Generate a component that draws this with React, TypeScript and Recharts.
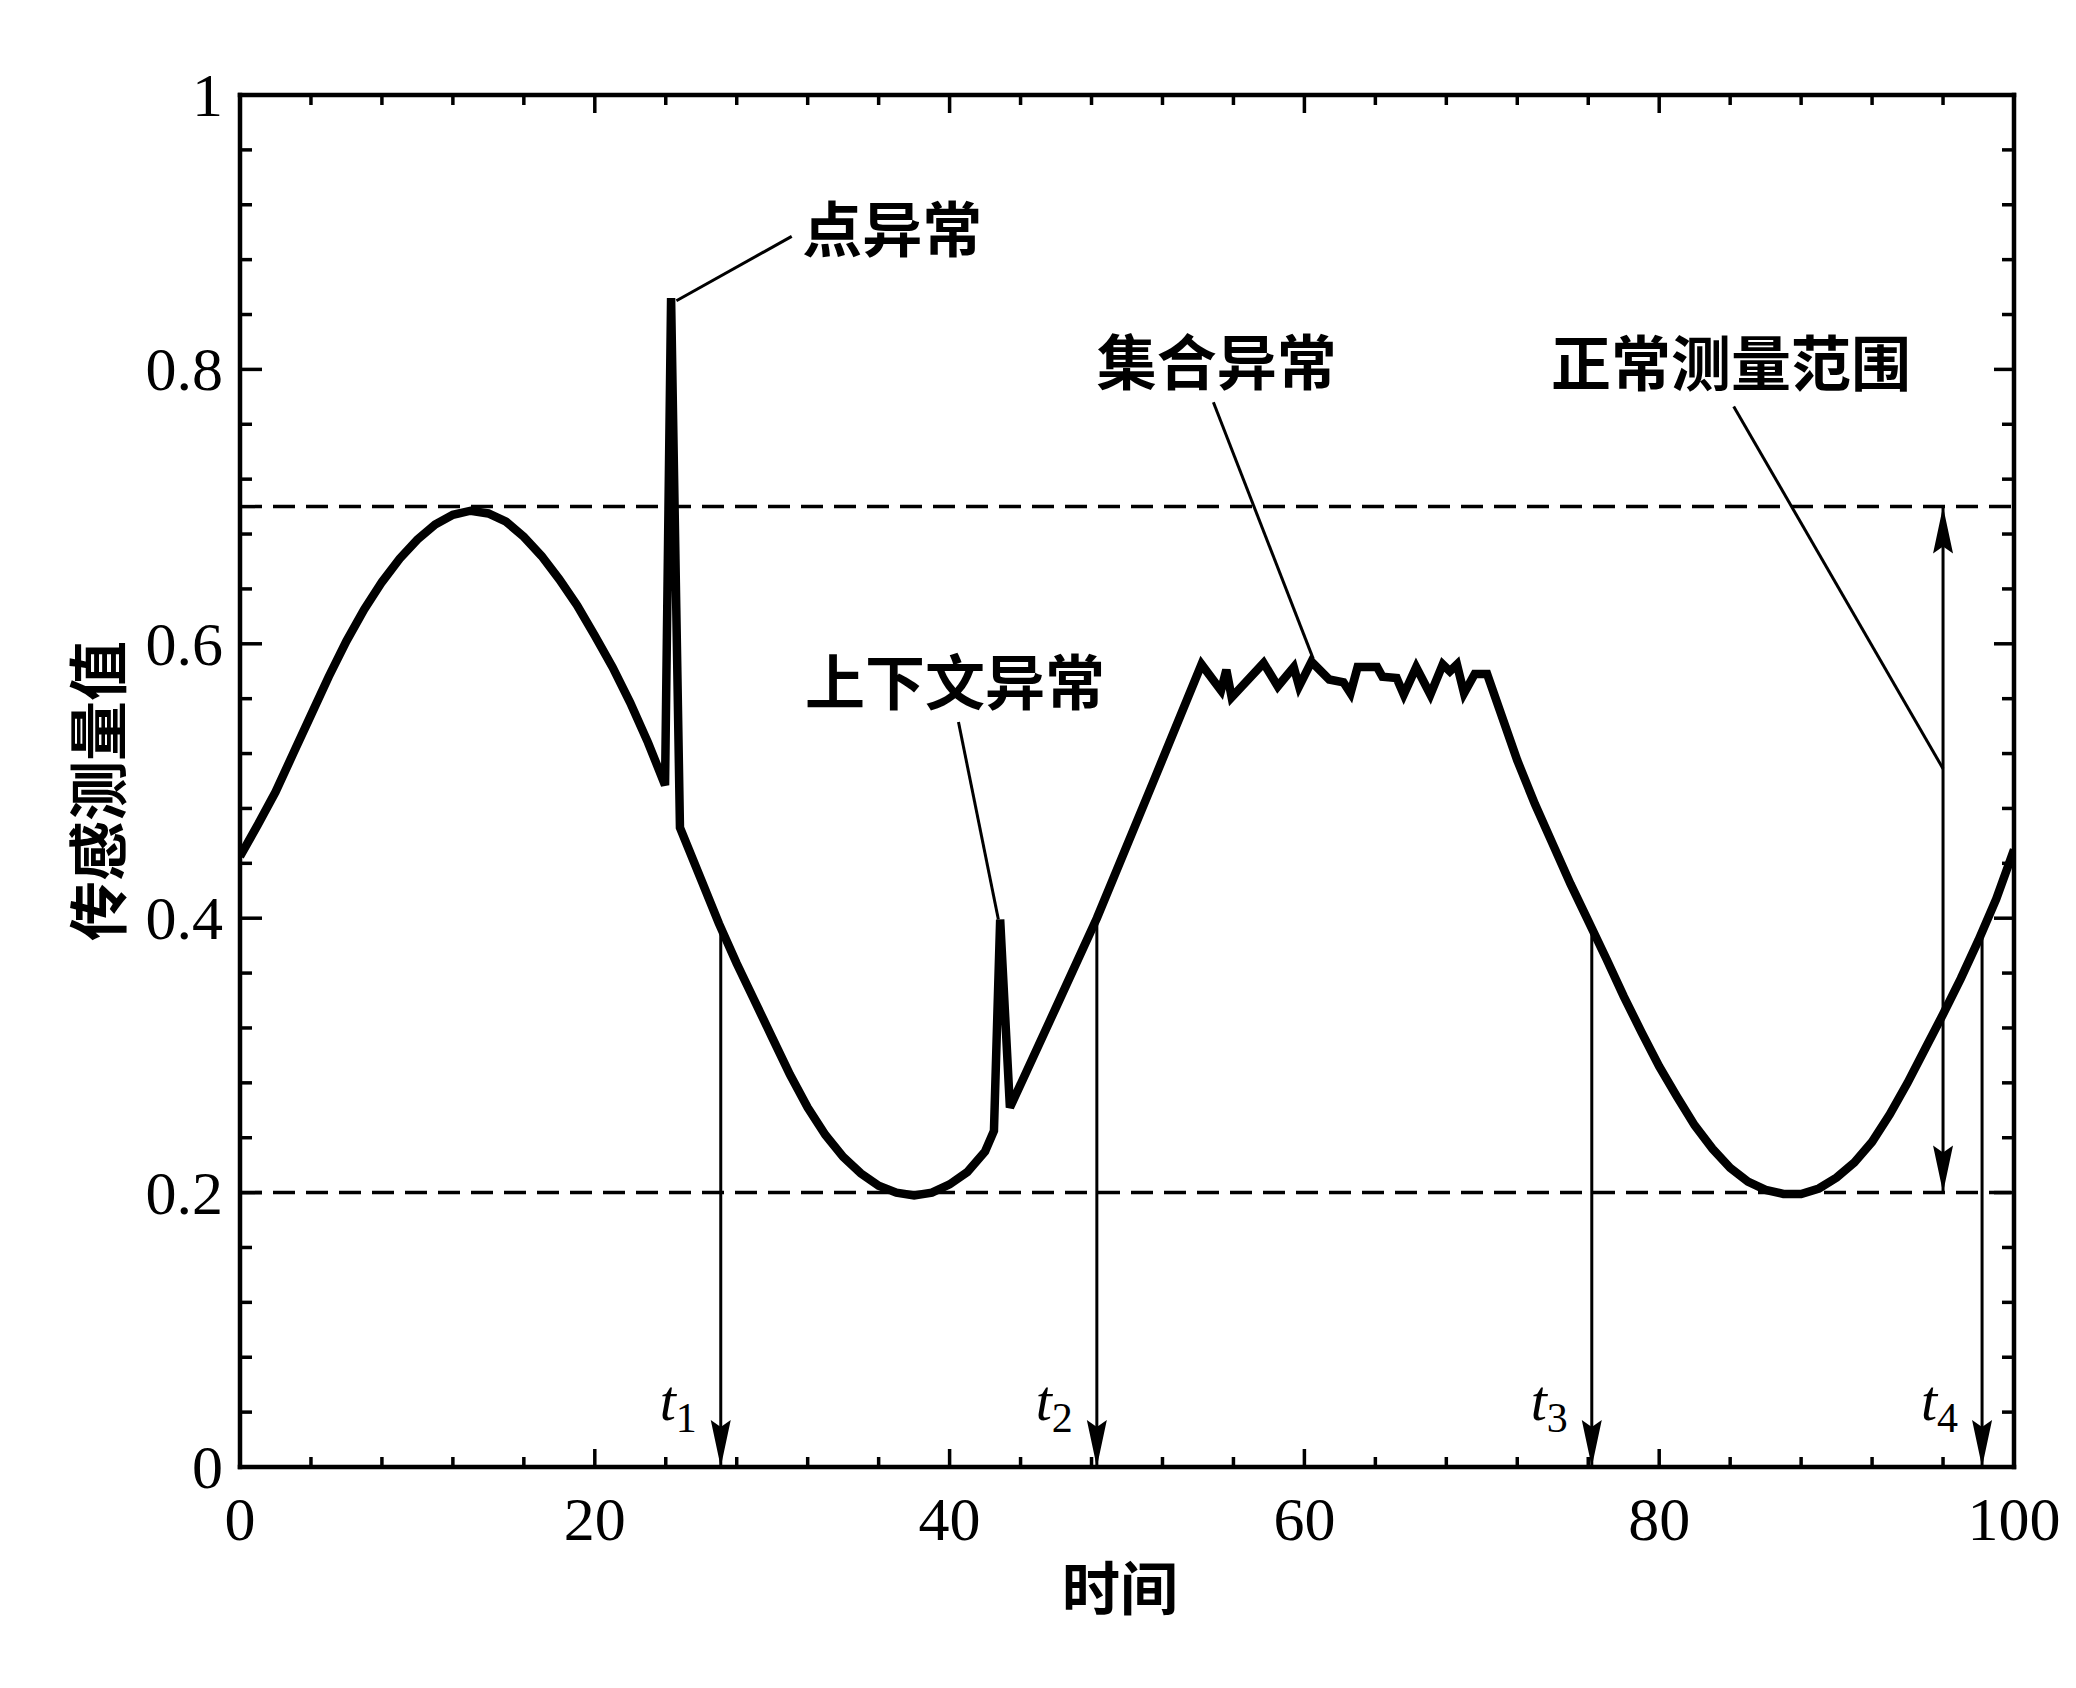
import { LineChart, Line, XAxis, YAxis, ReferenceLine, ReferenceDot } from 'recharts';

// ---------------------------------------------------------------------------
// Data
// ---------------------------------------------------------------------------

const TIME = [
  // first hump
  0, 1, 2, 3, 4, 5, 6, 7, 8, 9, 10, 11, 12, 13, 14, 15, 16, 17, 18, 19, 20, 21, 22, 23, 23.96,
  // point anomaly
  24.3, 24.8,
  // descent to first trough
  26, 27, 28, 29, 30, 31, 32, 33, 34, 35, 36, 37, 38, 39, 40, 41, 42, 42.5,
  // contextual anomaly
  42.85, 43.4,
  // rise
  46, 48.3, 51.5,
  // collective anomaly (jagged plateau)
  54.2, 55.3, 55.6, 55.9, 57.7, 58.5, 59.4, 59.7, 60.4, 61.4, 62.2, 62.6, 63.0, 64.1, 64.4,
  65.2, 65.6, 66.3, 67.1, 67.8, 68.2, 68.6, 69.0, 69.6, 70.3,
  // descent, second trough, rise
  71, 72, 73, 74, 75, 76, 77, 78, 79, 80, 81, 82, 83, 84, 85, 86, 87, 88, 89, 90,
  91, 92, 93, 94, 95, 96, 97, 98, 99, 100,
];

const VALUE = [
  0.445, 0.468, 0.492, 0.52, 0.548, 0.576, 0.602, 0.625, 0.645, 0.662, 0.676, 0.687, 0.694,
  0.697, 0.695, 0.689, 0.678, 0.664, 0.647, 0.628, 0.606, 0.583, 0.557, 0.528, 0.497,
  0.852, 0.466,
  0.428, 0.396, 0.367, 0.34, 0.313, 0.286, 0.262, 0.242, 0.226, 0.214, 0.205, 0.2, 0.198,
  0.2, 0.206, 0.215, 0.23, 0.245,
  0.399, 0.262,
  0.335, 0.4, 0.5,
  0.585, 0.566, 0.581, 0.561, 0.586, 0.569, 0.583, 0.569, 0.587, 0.574, 0.572, 0.564, 0.583,
  0.583, 0.576, 0.575, 0.563, 0.583, 0.563, 0.585, 0.58, 0.585, 0.564, 0.578, 0.578,
  0.552, 0.515, 0.483, 0.454, 0.425, 0.398, 0.371, 0.343, 0.317, 0.292, 0.27, 0.249, 0.232,
  0.218, 0.208, 0.202, 0.199, 0.199, 0.203, 0.211, 0.222, 0.237, 0.257, 0.28, 0.305, 0.33,
  0.356, 0.384, 0.414, 0.45,
];

const X_TICKS = [0, 4, 8, 12, 16, 20, 24, 28, 32, 36, 40, 44, 48, 52, 56, 60, 64, 68, 72, 76, 80, 84, 88, 92, 96, 100];
const Y_TICKS = [
  0, 0.04, 0.08, 0.12, 0.16, 0.2, 0.24, 0.28, 0.32, 0.36, 0.4, 0.44, 0.48, 0.52, 0.56, 0.6,
  0.64, 0.68, 0.72, 0.76, 0.8, 0.84, 0.88, 0.92, 0.96, 1,
];

// normal measurement band
const NORMAL_LOW = 0.2;
const NORMAL_HIGH = 0.7;
const RANGE_T = 96;

// t1..t4 markers
const MARK_T = [27.1, 48.3, 76.2, 98.2];
const MARK_FROM = [0.395, 0.4, 0.394, 0.39];
const MARK_SUB = ['1', '2', '3', '4'];

// annotations
const NOTE_TEXT = ['点异常', '上下文异常', '集合异常', '正常测量范围'];
const NOTE_T = [31.7, 31.85, 48.3, 73.9];
const NOTE_V = [0.905, 0.575, 0.808, 0.807];
const LEADER_START = [
  { x: 24.6, y: 0.85 },
  { x: 40.5, y: 0.543 },
  { x: 54.87, y: 0.776 },
  { x: 84.2, y: 0.773 },
];
const LEADER_END = [
  { x: 31.1, y: 0.897 },
  { x: 42.75, y: 0.399 },
  { x: 60.5, y: 0.589 },
  { x: RANGE_T, y: 0.509 },
];

const DATA = TIME.map((t, i) => ({ t, v: VALUE[i] }));

// ---------------------------------------------------------------------------
// Styling helpers
// ---------------------------------------------------------------------------

const SERIF = '"Liberation Serif", "Times New Roman", serif';
const CJK = '"Noto Sans CJK SC", "Noto Sans", sans-serif';
const INK = '#000';

const isMajor = (v: number, step: number) => Math.abs(v / step - Math.round(v / step)) < 1e-6;
const fmtY = (v: number) => (Math.abs(v - Math.round(v)) < 1e-6 ? String(Math.round(v)) : v.toFixed(1));

function BottomTick({ x, y, payload }: any) {
  const major = isMajor(payload.value, 20);
  return (
    <g>
      <line x1={x} y1={y} x2={x} y2={y - (major ? 18 : 10)} stroke={INK} strokeWidth={3.5} />
      {major && (
        <text x={x} y={y + 73} textAnchor="middle" fontFamily={SERIF} fontSize={62} fill={INK}>
          {payload.value}
        </text>
      )}
    </g>
  );
}

function TopTick({ x, y, payload }: any) {
  const major = isMajor(payload.value, 20);
  return <line x1={x} y1={y} x2={x} y2={y + (major ? 18 : 10)} stroke={INK} strokeWidth={3.5} />;
}

function LeftTick({ x, y, payload }: any) {
  const major = isMajor(payload.value, 0.2);
  return (
    <g>
      <line x1={x} y1={y} x2={x + (major ? 22 : 12)} y2={y} stroke={INK} strokeWidth={3.5} />
      {major && (
        <text x={x - 17} y={y + 21} textAnchor="end" fontFamily={SERIF} fontSize={62} fill={INK}>
          {fmtY(payload.value)}
        </text>
      )}
    </g>
  );
}

function RightTick({ x, y, payload }: any) {
  const major = isMajor(payload.value, 0.2);
  return <line x1={x} y1={y} x2={x - (major ? 20 : 12)} y2={y} stroke={INK} strokeWidth={3.5} />;
}

function XLabel({ viewBox }: any) {
  const cx = viewBox.x + viewBox.width / 2 - 7;
  const cy = viewBox.y + 118;
  return (
    <text x={cx} y={cy} textAnchor="middle" dominantBaseline="central" fontFamily={CJK} fontWeight={700} fontSize={58} fill={INK}>
      时间
    </text>
  );
}

function YLabel({ viewBox }: any) {
  const cx = viewBox.x + viewBox.width - 146;
  const cy = viewBox.y + viewBox.height / 2 + 10;
  return (
    <text
      x={cx}
      y={cy}
      transform={`rotate(-90 ${cx} ${cy})`}
      textAnchor="middle"
      dominantBaseline="central"
      fontFamily={CJK}
      fontWeight={700}
      fontSize={60}
      fill={INK}
    >
      传感测量值
    </text>
  );
}

const arrowDown = ({ cx, cy }: any) => (
  <path d={`M${cx},${cy} L${cx - 10},${cy - 47} L${cx},${cy - 40} L${cx + 10},${cy - 47} Z`} fill={INK} />
);
const arrowUp = ({ cx, cy }: any) => (
  <path d={`M${cx},${cy} L${cx - 10},${cy + 47} L${cx},${cy + 40} L${cx + 10},${cy + 47} Z`} fill={INK} />
);

const markLabel = (sub: string) => ({ cx, cy }: any) => (
  <text x={cx - 24} y={cy - 47} textAnchor="end" fontFamily={SERIF} fill={INK}>
    <tspan fontStyle="italic" fontSize={58}>t</tspan>
    <tspan fontSize={42} dy={12}>{sub}</tspan>
  </text>
);

const noteLabel = (text: string) => ({ cx, cy }: any) => (
  <text x={cx} y={cy} textAnchor="start" dominantBaseline="central" fontFamily={CJK} fontWeight={700} fontSize={60} fill={INK}>
    {text}
  </text>
);

const axisLine = { stroke: INK, strokeWidth: 4.5, strokeLinecap: 'square' as const };
const ids = { xAxisId: 'b', yAxisId: 'l' };

// ---------------------------------------------------------------------------
// Component
// ---------------------------------------------------------------------------

export default function App() {
  return (
    <div style={{ position: 'absolute', left: 0, top: 0, width: 2076, height: 1688, background: '#fff' }}>
      <LineChart width={2076} height={1688} data={DATA} margin={{ top: 94, right: 61, bottom: 161, left: 160 }}>
        <XAxis
          xAxisId="b"
          dataKey="t"
          type="number"
          domain={[0, 100]}
          ticks={X_TICKS}
          interval={0}
          height={60}
          tickSize={0}
          tickMargin={0}
          tickLine={false}
          axisLine={axisLine}
          tick={BottomTick}
          label={XLabel}
          allowDataOverflow
        />
        <XAxis
          xAxisId="t"
          dataKey="t"
          orientation="top"
          type="number"
          domain={[0, 100]}
          ticks={X_TICKS}
          interval={0}
          height={1}
          tickSize={0}
          tickMargin={0}
          tickLine={false}
          axisLine={axisLine}
          tick={TopTick}
          allowDataOverflow
        />
        <YAxis
          yAxisId="l"
          type="number"
          domain={[0, 1]}
          ticks={Y_TICKS}
          interval={0}
          width={80}
          tickSize={0}
          tickMargin={0}
          tickLine={false}
          axisLine={axisLine}
          tick={LeftTick}
          label={YLabel}
          allowDataOverflow
        />
        <YAxis
          yAxisId="r"
          orientation="right"
          type="number"
          domain={[0, 1]}
          ticks={Y_TICKS}
          interval={0}
          width={1}
          tickSize={0}
          tickMargin={0}
          tickLine={false}
          axisLine={axisLine}
          tick={RightTick}
          allowDataOverflow
        />

        {/* normal range bounds */}
        <ReferenceLine {...ids} y={NORMAL_HIGH} stroke={INK} strokeWidth={3.5} strokeDasharray="22 11" />
        <ReferenceLine {...ids} y={NORMAL_LOW} stroke={INK} strokeWidth={3.5} strokeDasharray="22 11" />

        {/* range double arrow */}
        <ReferenceLine
          {...ids}
          segment={[{ x: RANGE_T, y: NORMAL_LOW }, { x: RANGE_T, y: NORMAL_HIGH }]}
          stroke={INK}
          strokeWidth={3}
          ifOverflow="visible"
        />
        <ReferenceDot {...ids} x={RANGE_T} y={NORMAL_HIGH} r={0} shape={arrowUp} ifOverflow="visible" />
        <ReferenceDot {...ids} x={RANGE_T} y={NORMAL_LOW} r={0} shape={arrowDown} ifOverflow="visible" />

        {/* t markers */}
        {MARK_T.map((t, i) => (
          <ReferenceLine
            key={`m-${i}`}
            {...ids}
            segment={[{ x: t, y: MARK_FROM[i] }, { x: t, y: 0 }]}
            stroke={INK}
            strokeWidth={3}
            ifOverflow="visible"
          />
        ))}
        {MARK_T.map((t, i) => (
          <ReferenceDot key={`a-${i}`} {...ids} x={t} y={0} r={0} shape={arrowDown} ifOverflow="visible" />
        ))}
        {MARK_T.map((t, i) => (
          <ReferenceDot key={`l-${i}`} {...ids} x={t} y={0} r={0} shape={markLabel(MARK_SUB[i])} ifOverflow="visible" />
        ))}

        {/* annotation leaders and texts */}
        {NOTE_TEXT.map((_, i) => (
          <ReferenceLine
            key={`ld-${i}`}
            {...ids}
            segment={[LEADER_START[i], LEADER_END[i]]}
            stroke={INK}
            strokeWidth={3}
            ifOverflow="visible"
          />
        ))}
        {NOTE_TEXT.map((text, i) => (
          <ReferenceDot key={`n-${i}`} {...ids} x={NOTE_T[i]} y={NOTE_V[i]} r={0} shape={noteLabel(text)} ifOverflow="visible" />
        ))}

        <Line
          {...ids}
          dataKey="v"
          type="linear"
          stroke={INK}
          strokeWidth={8.5}
          dot={false}
          activeDot={false}
          isAnimationActive={false}
        />
      </LineChart>
    </div>
  );
}
